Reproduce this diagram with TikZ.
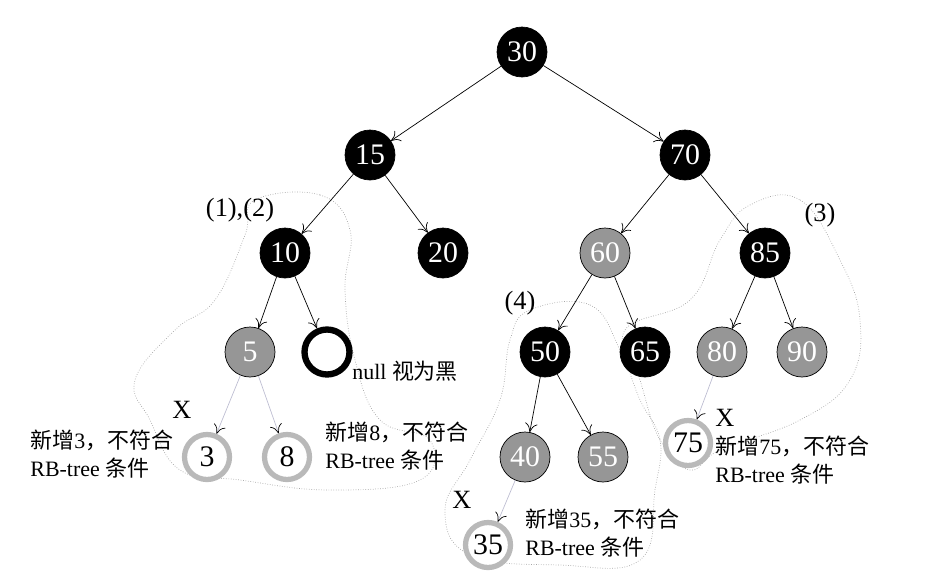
\documentclass[tikz,border=0pt]{standalone}
\usepackage{fontspec}
\setmainfont{Liberation Serif}
\newfontfamily\cjk{Noto Sans CJK SC}
\usepackage{xcolor}
\usetikzlibrary{arrows.meta}
\definecolor{redgray}{RGB}{150,150,150}
\definecolor{ringgray}{RGB}{185,185,185}
\definecolor{linkgray}{RGB}{190,190,210}

\begin{document}
\begin{tikzpicture}[x=0.02cm, y=-0.02cm]
    \tikzstyle{blk} = [circle, draw=black, fill=black, text=white, minimum size=1.0cm, inner sep=0pt, font=\fontsize{17}{17}\selectfont]
    \tikzstyle{rd} = [circle, draw=black, fill=redgray, text=white, minimum size=1.0cm, inner sep=0pt, font=\fontsize{17}{17}\selectfont]
    \tikzstyle{newnode} = [circle, draw=ringgray, line width=3pt, fill=white, minimum size=0.9cm, inner sep=0pt, font=\fontsize{17}{17}\selectfont]
    \tikzstyle{nil} = [circle, draw=black, line width=3.6pt, minimum size=0.9cm, inner sep=0pt]
    \tikzstyle{link} = [-{To[length=5pt,width=7pt]}, thin]
    \tikzstyle{newlink} = [-{To[length=5pt,width=7pt,color=black]}, draw=linkgray, thin]
    \tikzstyle{note} = [align=left, anchor=west, inner sep=0pt, font=\fontsize{12.5}{15.5}\selectfont]
    \tikzstyle{blob} = [draw=gray!70, densely dotted, thin]

    \useasboundingbox (0,0) rectangle (936,585);

    % Groups
    \draw [blob] plot[smooth cycle, tension=0.7] coordinates {(255,200) (320,195) (350,230) (345,290) (355,360) (380,420) (430,440) (420,480) (330,490) (240,480) (180,470) (150,420) (135,380) (175,330) (215,300) (245,235)};
    \draw [blob] plot[smooth cycle, tension=0.7] coordinates {(750,205) (800,200) (840,260) (860,320) (850,380) (800,420) (720,450) (690,470) (660,440) (640,380) (625,330) (690,300) (720,240)};
    \draw [blob] plot[smooth cycle, tension=0.7] coordinates {(530,310) (590,305) (620,350) (640,400) (660,440) (655,490) (640,560) (560,565) (470,555) (445,510) (470,460) (500,400) (510,340)};

    % Black and red nodes
    \node [blk] (n30) at (522,52) {30};
    \node [blk] (n15) at (370,155) {15};
    \node [blk] (n70) at (685,155) {70};
    \node [blk] (n10) at (285,253) {10};
    \node [blk] (n20) at (443,253) {20};
    \node [rd] (n60) at (605,253) {60};
    \node [blk] (n85) at (765,253) {85};
    \node [rd] (n5) at (250,352) {5};
    \node [nil] (nnull) at (327,352) {};
    \node [blk] (n50) at (545,352) {50};
    \node [blk] (n65) at (645,352) {65};
    \node [rd] (n80) at (722,352) {80};
    \node [rd] (n90) at (802,352) {90};
    \node [rd] (n40) at (525,457) {40};
    \node [rd] (n55) at (603,457) {55};

    % New nodes
    \node [newnode] (n3) at (207,457) {3};
    \node [newnode] (n8) at (287,457) {8};
    \node [newnode] (n75) at (688,443) {75};
    \node [newnode] (n35) at (488,545) {35};

    % Labels
    \node [font=\fontsize{15}{15}\selectfont] (lab12) at (240,210) {(1),(2)};
    \node [font=\fontsize{15}{15}\selectfont] (lab3) at (820,215) {(3)};
    \node [font=\fontsize{15}{15}\selectfont] (lab4) at (520,303) {(4)};
    \node [font=\fontsize{15}{15}\selectfont] (x3) at (182,410) {X};
    \node [font=\fontsize{15}{15}\selectfont] (x35) at (462,500) {X};
    \node [font=\fontsize{15}{15}\selectfont] (x75) at (725,418) {X};
    \node [note, anchor=south west] (nulltxt) at (352,382) {null {\cjk 视为黑}};
    \node [note] (t3) at (30,454) {{\cjk 新增}3{\cjk ，不符合}\\RB-tree {\cjk 条件}};
    \node [note] (t8) at (325,446) {{\cjk 新增}8{\cjk ，不符合}\\RB-tree {\cjk 条件}};
    \node [note] (t75) at (715,460) {{\cjk 新增}75{\cjk ，不符合}\\RB-tree {\cjk 条件}};
    \node [note] (t35) at (525,533) {{\cjk 新增}35{\cjk ，不符合}\\RB-tree {\cjk 条件}};

    % Connections
    \draw [link] (n30) -- (n15);
    \draw [link] (n30) -- (n70);
    \draw [link] (n15) -- (n10);
    \draw [link] (n15) -- (n20);
    \draw [link] (n70) -- (n60);
    \draw [link] (n70) -- (n85);
    \draw [link] (n10) -- (n5);
    \draw [link] (n10) -- (nnull);
    \draw [link] (n60) -- (n50);
    \draw [link] (n60) -- (n65);
    \draw [link] (n85) -- (n80);
    \draw [link] (n85) -- (n90);
    \draw [link] (n50) -- (n40);
    \draw [link] (n50) -- (n55);

    \draw [newlink] (n5) -- (n3);
    \draw [newlink] (n5) -- (n8);
    \draw [newlink] (n80) -- (n75);
    \draw [newlink] (n40) -- (n35);
\end{tikzpicture}
\end{document}
